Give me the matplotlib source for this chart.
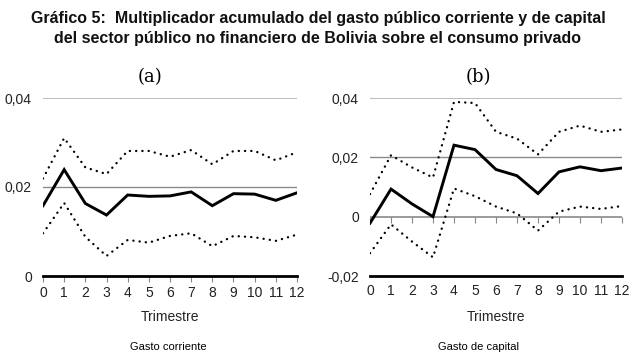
import matplotlib
matplotlib.use("Agg")
import matplotlib.pyplot as plt

# Data
trimestre = list(range(13))
xlabels = [str(t) for t in trimestre]

corr_mean = [0.0158, 0.0239, 0.0163, 0.0137, 0.0182, 0.0179, 0.0180, 0.0189, 0.0158, 0.0185, 0.0184, 0.0170, 0.0187]
corr_up = [0.0219, 0.0310, 0.0244, 0.0229, 0.0281, 0.0281, 0.0268, 0.0283, 0.0251, 0.0281, 0.0281, 0.0260, 0.0278]
corr_lo = [0.0096, 0.0164, 0.0088, 0.0045, 0.0081, 0.0075, 0.0090, 0.0096, 0.0067, 0.0090, 0.0087, 0.0079, 0.0093]

cap_mean = [-0.0022, 0.0093, 0.0043, 0.0000, 0.0241, 0.0226, 0.0159, 0.0138, 0.0078, 0.0151, 0.0168, 0.0155, 0.0164]
cap_up = [0.0076, 0.0207, 0.0166, 0.0132, 0.0387, 0.0383, 0.0286, 0.0263, 0.0210, 0.0286, 0.0307, 0.0286, 0.0294]
cap_lo = [-0.0123, -0.0026, -0.0084, -0.0137, 0.0095, 0.0069, 0.0034, 0.0011, -0.0047, 0.0017, 0.0034, 0.0026, 0.0036]

W, H = 635, 357
font = "Liberation Sans"
plt.rcParams['font.family'] = [font, 'DejaVu Sans']

fig = plt.figure(figsize=(W / 100, H / 100), dpi=100)


def px_axes(x0, x1, ytop, ybot):
    return fig.add_axes([x0 / W, (H - ybot) / H, (x1 - x0) / W, (ybot - ytop) / H])


def draw(ax, mean, up, lo):
    dots = (0, (0.05, 2.6))
    ax.plot(trimestre, up, color='black', lw=1.7, linestyle=dots, dash_capstyle='round')
    ax.plot(trimestre, lo, color='black', lw=1.7, linestyle=dots, dash_capstyle='round')
    ax.plot(trimestre, mean, color='black', lw=2.1, solid_joinstyle='miter')
    ax.set_xlim(0, 12)
    ax.set_xticks(trimestre)
    ax.set_xticklabels(xlabels)
    for s in ['top', 'right', 'left']:
        ax.spines[s].set_visible(False)
    ax.tick_params(axis='y', length=0, pad=8, labelsize=10, labelcolor='#222222')
    ax.tick_params(axis='x', labelsize=10, pad=5, labelcolor='#222222')
    ax.set_xlabel('Trimestre', fontsize=10, color='#222222')
    ax.xaxis.set_label_coords(0.5, -0.19)


# (a) Gasto corriente
ax1 = px_axes(43, 297, 98, 276)
ax1.axhline(0.04, color='#b0b0b0', lw=1.2, zorder=0)
ax1.axhline(0.02, color='#8a8a8a', lw=1.0, zorder=0)
draw(ax1, corr_mean, corr_up, corr_lo)
ax1.set_ylim(0, 0.04)
ax1.set_yticks([0, 0.02, 0.04])
ax1.set_yticklabels(['0', '0,02', '0,04'])
ax1.spines['bottom'].set_linewidth(2)
ax1.tick_params(axis='x', length=4, color='#888888', width=0.8, pad=3)

# (b) Gasto de capital
ax2 = px_axes(370, 622, 98, 276)
ax2.axhline(0.04, color='#b0b0b0', lw=1.2, zorder=0)
ax2.axhline(0.02, color='#8a8a8a', lw=1.0, zorder=0)
ax2.axhline(0.0, color='#8a8a8a', lw=1.2, zorder=0)
draw(ax2, cap_mean, cap_up, cap_lo)
ax2.set_ylim(-0.02, 0.04)
ax2.set_yticks([-0.02, 0, 0.02, 0.04])
ax2.set_yticklabels(['-0,02', '0', '0,02', '0,04'])
ax2.spines['bottom'].set_linewidth(2)
ax2.tick_params(axis='x', length=0, pad=6)
sec = ax2.secondary_xaxis(0, transform=ax2.transData)
sec.set_xticks(trimestre)
sec.tick_params(length=4, color='#888888', width=0.8, labelbottom=False)
sec.spines['bottom'].set_visible(False)

# panel letters
fig.text(150 / W, 1 - 77 / H, '(a)', family='DejaVu Serif', fontsize=13, ha='center', va='center')
fig.text(478 / W, 1 - 77 / H, '(b)', family='DejaVu Serif', fontsize=13, ha='center', va='center')

# titles
fig.text(318 / W, 1 - 19 / H, 'Gráfico 5:  Multiplicador acumulado del gasto público corriente y de capital',
         fontsize=11.5, fontweight='bold', ha='center', va='center', color='#111111')
fig.text(318 / W, 1 - 38 / H, 'del sector público no financiero de Bolivia sobre el consumo privado',
         fontsize=11.5, fontweight='bold', ha='center', va='center', color='#111111')

fig.text(168 / W, 1 - 347 / H, 'Gasto corriente', fontsize=8, ha='center', va='center')
fig.text(478 / W, 1 - 347 / H, 'Gasto de capital', fontsize=8, ha='center', va='center')

fig.savefig('out.png', dpi=100)
